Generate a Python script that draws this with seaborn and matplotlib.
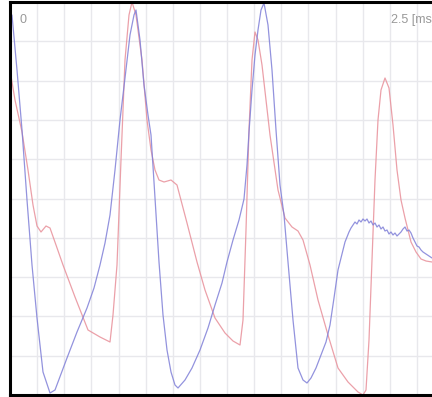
import numpy as np
import pandas as pd
import matplotlib
matplotlib.use("Agg")
import matplotlib.pyplot as plt
import seaborn as sns

sns.set_style("white")
plt.rcParams["font.family"] = ["Liberation Sans", "DejaVu Sans"]

# x = sample index (407 samples = 2.5 ms), y = raw amplitude counts
red_x = [0, 5, 12, 18, 23, 27, 31, 36, 40, 46, 53, 65, 78, 90, 100, 103, 107, 111, 115, 119,
         122, 126, 132, 137, 141, 145, 149, 154, 161, 167, 177, 187, 195, 205, 215, 223, 230,
         233, 236, 239, 242, 245, 248, 252, 256, 260, 268, 275, 282, 288, 293, 300, 308, 318,
         328, 338, 348, 353, 356, 359, 362, 365, 368, 371, 375, 379, 383, 387, 391, 395, 401,
         406, 411, 416, 422]
red_y = [325, 295, 263, 225, 190, 169, 163, 169, 167, 150, 130, 98, 65, 58, 53, 80, 130, 235,
         335, 380, 393, 380, 335, 275, 245, 225, 215, 213, 215, 210, 172, 133, 105, 77, 62, 54,
         50, 75, 165, 265, 335, 363, 355, 330, 295, 260, 205, 177, 168, 164, 155, 130, 95, 60,
         27, 13, 3, 0, 5, 55, 135, 215, 275, 305, 317, 307, 270, 225, 195, 177, 153, 143, 136,
         134, 133]

blue_x = [2, 7, 12, 17, 22, 27, 33, 40, 45, 51, 57, 67, 77, 84, 90, 95, 100, 105, 110, 115,
          120, 124, 126, 130, 134, 138, 141, 144, 149, 153, 157, 161, 165, 168, 175, 182, 190,
          198, 205, 212, 217, 223, 229, 234, 237, 239, 242, 245, 248, 251, 254, 258, 262, 266,
          270, 274, 278, 283, 288, 293, 297, 301, 306, 311, 316, 320, 324, 328, 331, 335, 339,
          341, 343, 345, 347, 349, 351, 353, 355, 357, 359, 361, 363, 365, 367, 369, 371, 373,
          375, 377, 379, 381, 383, 385, 387, 389, 391, 393, 395, 397, 399, 401, 403, 405, 407,
          409, 411, 413, 416, 419, 422]
blue_y = [380, 325, 265, 195, 130, 77, 23, 2, 5, 21, 37, 63, 87, 107, 130, 152, 180, 225, 275,
          317, 360, 380, 385, 355, 310, 280, 260, 213, 133, 80, 45, 23, 10, 7, 15, 27, 45, 67, 90,
          112, 133, 155, 175, 196, 230, 263, 305, 340, 365, 385, 392, 370, 325, 265, 210, 180,
          133, 75, 27, 15, 12, 17, 27, 40, 53, 70, 97, 125, 137, 153, 163, 167, 170, 173, 171,
          175, 173, 176, 174, 176, 172, 174, 170, 172, 168, 170, 166, 168, 164, 165, 161, 163,
          160, 162, 159, 161, 163, 166, 168, 164, 165, 162, 157, 153, 149, 148, 145, 143, 141,
          139, 137]

grid_x = np.arange(0, 423, 407 / 15)
grid_y = np.arange(0, 394, 39.3)

red = pd.DataFrame({"sample": red_x, "value": red_y})
blue = pd.DataFrame({"sample": blue_x, "value": blue_y})

fig = plt.figure(figsize=(4.32, 3.97), dpi=100)
ax = fig.add_axes([10 / 432, 2 / 397, 1 - 10 / 432, 393 / 397])

for gx in grid_x:
    ax.axvline(gx, color="#e8e8ec", lw=1, zorder=0)
for gy in grid_y:
    ax.axhline(gy, color="#e8e8ec", lw=1, zorder=0)

sns.lineplot(data=red, x="sample", y="value", sort=False, estimator=None,
             color="#e8909a", lw=0.9, alpha=0.85, ax=ax)
sns.lineplot(data=blue, x="sample", y="value", sort=False, estimator=None,
             color="#8080d8", lw=0.9, alpha=0.85, ax=ax)

ax.set_xlim(0, 422)
ax.set_ylim(0, 393)
ax.set_xticks([])
ax.set_yticks([])
ax.set_xlabel("")
ax.set_ylabel("")

for side in ["left", "top", "bottom"]:
    ax.spines[side].set_linewidth(2.2)
    ax.spines[side].set_color("black")
ax.spines["right"].set_visible(False)

# the reference crops the unit label at the right edge
ax.text(10, 375, "0", fontsize=9, color="#999999", va="center", ha="left")
ax.text(381, 375, "2.5 [ms]", fontsize=9, color="#999999", va="center", ha="left",
        clip_on=False)

fig.savefig("out.png", dpi=100)
